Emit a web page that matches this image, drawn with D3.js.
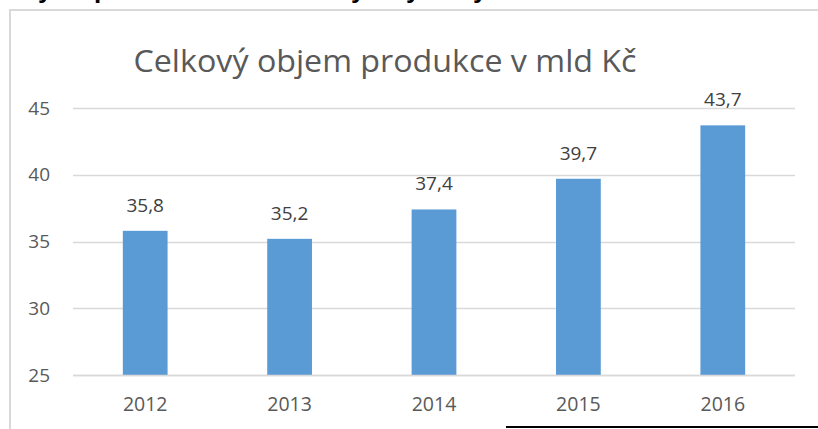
<!DOCTYPE html>
<html>
<head>
<meta charset="utf-8">
<script src="https://cdn.jsdelivr.net/npm/d3@7"></script>
<style>
  html, body { margin: 0; padding: 0; background: #fff; }
  svg { display: block; }
</style>
</head>
<body>
<svg id="chart" width="818" height="429"></svg>
<script>
const categories = ["2012", "2013", "2014", "2015", "2016"];
const values = [35.8, 35.2, 37.4, 39.7, 43.7];
const yTicks = [25, 30, 35, 40, 45];
const title = "Celkový objem produkce v mld Kč";

const W = 818, H = 429;
const svg = d3.select("#chart");
const font = "'Open Sans', 'Noto Sans', sans-serif";

// cropped heading above (only descenders visible)
const head = svg.append("text")
  .attr("y", -2)
  .attr("font-family", "'Liberation Sans', Arial, sans-serif")
  .attr("font-weight", "bold")
  .attr("font-size", 26)
  .attr("fill", "#000");
[["y", 38], ["p", 94], ["y", 351], ["y", 406], ["y", 473]].forEach(([c, x]) =>
  head.append("tspan").attr("x", x).text(c));

// chart border
svg.append("rect")
  .attr("x", 10).attr("y", 10)
  .attr("width", W + 20).attr("height", H + 20)
  .attr("fill", "#fff")
  .attr("stroke", "#d9d9d9")
  .attr("stroke-width", 2);

const x = d3.scaleBand().domain(categories).range([73, 795]).paddingInner(0.69).paddingOuter(0.345);
const y = d3.scaleLinear().domain([25, 45]).range([375, 108]);

// gridlines
svg.append("g").selectAll("line").data(yTicks).join("line")
  .attr("x1", 73).attr("x2", 795)
  .attr("y1", d => Math.round(y(d)) + 0.5).attr("y2", d => Math.round(y(d)) + 0.5)
  .attr("stroke", "#d9d9d9").attr("stroke-width", 1.3);

// y axis labels
const yAxis = d3.axisLeft(y).tickValues(yTicks).tickSize(0).tickPadding(0);
const gy = svg.append("g").attr("transform", "translate(50,0)").call(yAxis);
gy.select(".domain").remove();
gy.selectAll("text")
  .attr("font-family", font).attr("font-size", 19).attr("fill", "#595959");

// bars
svg.append("g").selectAll("rect").data(values).join("rect")
  .attr("x", (d, i) => x(categories[i]))
  .attr("width", x.bandwidth())
  .attr("y", d => y(d))
  .attr("height", d => y(25) - y(d))
  .attr("fill", "#5b9bd5");

// redraw baseline over bars
svg.append("line")
  .attr("x1", 73).attr("x2", 795)
  .attr("y1", Math.round(y(25)) + 0.5).attr("y2", Math.round(y(25)) + 0.5)
  .attr("stroke", "#d9d9d9").attr("stroke-width", 1.3);

// data labels
svg.append("g").selectAll("text").data(values).join("text")
  .attr("x", (d, i) => x(categories[i]) + x.bandwidth() / 2)
  .attr("y", d => y(d) - 19)
  .attr("text-anchor", "middle")
  .attr("font-family", font).attr("font-size", 19).attr("fill", "#404040")
  .text(d => d3.format(".1f")(d).replace(".", ","));

// x axis labels
const xAxis = d3.axisBottom(x).tickSize(0).tickPadding(0);
const gx = svg.append("g").attr("transform", "translate(0,397)").call(xAxis);
gx.select(".domain").remove();
gx.selectAll("text")
  .attr("font-family", font).attr("font-size", 19.5).attr("fill", "#595959");

// title
svg.append("text")
  .attr("x", 385).attr("y", 72)
  .attr("text-anchor", "middle")
  .attr("font-family", font).attr("font-size", 30.5).attr("fill", "#595959")
  .attr("textLength", 503).attr("lengthAdjust", "spacingAndGlyphs")
  .text(title);

// black line at bottom right
svg.append("line")
  .attr("x1", 506).attr("x2", W)
  .attr("y1", 427).attr("y2", 427)
  .attr("stroke", "#000").attr("stroke-width", 2);
</script>
</body>
</html>
